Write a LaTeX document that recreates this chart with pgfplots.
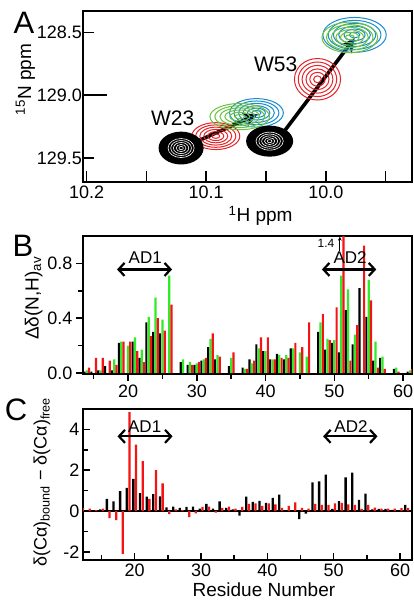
\documentclass[border=0pt]{standalone}
\usepackage{fontspec}
\setmainfont{Liberation Sans}
\usepackage{pgfplots}
\usepackage{pgfplotstable}
\pgfplotsset{compat=1.18}
\usetikzlibrary{arrows.meta}

\definecolor{cred}{RGB}{230,35,40}
\definecolor{cgreen}{RGB}{105,195,60}
\definecolor{cblue}{RGB}{25,140,210}
\definecolor{bred}{RGB}{245,20,20}
\definecolor{bgreen}{RGB}{50,235,40}

% concentric contour rings
\pgfdeclareplotmark{cont}{%
  \pgfpathellipse{\pgfpointorigin}{\pgfpoint{0.16\pgfplotmarksize}{0pt}}{\pgfpoint{0pt}{0.16\pgfplotmarksize}}%
  \pgfpathellipse{\pgfpointorigin}{\pgfpoint{0.32\pgfplotmarksize}{0pt}}{\pgfpoint{0pt}{0.32\pgfplotmarksize}}%
  \pgfpathellipse{\pgfpointorigin}{\pgfpoint{0.48\pgfplotmarksize}{0pt}}{\pgfpoint{0pt}{0.48\pgfplotmarksize}}%
  \pgfpathellipse{\pgfpointorigin}{\pgfpoint{0.64\pgfplotmarksize}{0pt}}{\pgfpoint{0pt}{0.64\pgfplotmarksize}}%
  \pgfpathellipse{\pgfpointorigin}{\pgfpoint{0.80\pgfplotmarksize}{0pt}}{\pgfpoint{0pt}{0.80\pgfplotmarksize}}%
  \pgfpathellipse{\pgfpointorigin}{\pgfpoint{0.96\pgfplotmarksize}{0pt}}{\pgfpoint{0pt}{0.96\pgfplotmarksize}}%
  \pgfusepathqstroke}
% filled black peak with white inner rings
\pgfdeclareplotmark{contk}{%
  \pgfpathellipse{\pgfpointorigin}{\pgfpoint{\pgfplotmarksize}{0pt}}{\pgfpoint{0pt}{\pgfplotmarksize}}%
  \pgfusepathqfill
  \pgfsetstrokecolor{white}\pgfsetlinewidth{0.6pt}%
  \pgfpathellipse{\pgfpointorigin}{\pgfpoint{0.10\pgfplotmarksize}{0pt}}{\pgfpoint{0pt}{0.10\pgfplotmarksize}}%
  \pgfpathellipse{\pgfpointorigin}{\pgfpoint{0.22\pgfplotmarksize}{0pt}}{\pgfpoint{0pt}{0.22\pgfplotmarksize}}%
  \pgfpathellipse{\pgfpointorigin}{\pgfpoint{0.34\pgfplotmarksize}{0pt}}{\pgfpoint{0pt}{0.34\pgfplotmarksize}}%
  \pgfpathellipse{\pgfpointorigin}{\pgfpoint{0.46\pgfplotmarksize}{0pt}}{\pgfpoint{0pt}{0.46\pgfplotmarksize}}%
  \pgfpathellipse{\pgfpointorigin}{\pgfpoint{0.58\pgfplotmarksize}{0pt}}{\pgfpoint{0pt}{0.58\pgfplotmarksize}}%
  \pgfusepathqstroke}

\pgfplotsset{
  panel/.style={scale only axis, width=329pt, anchor=north west,
    axis line style={line width=2pt},
    tick style={line width=1.5pt, black},
    major tick length=7pt, minor tick length=5pt,
    xtick pos=bottom, ytick pos=left,
    tick label style={font=\fontsize{18}{18}\selectfont},
    label style={font=\fontsize{19}{19}\selectfont},
    /pgf/number format/assume math mode=true},
}

% Delta delta(N,H)_av : black, green, red
\pgfplotstableread{
r k g rr
14 0.01 0.02 0.04
15 0.01 nan 0.11
16 0.02 0.02 0.11
17 0.05 nan 0.09
18 0.02 0.10 0.06
19 0.22 0.23 0.23
20 nan 0.20 0.23
21 0.23 0.26 0.16
22 0.11 0.17 0.08
23 0.37 0.41 0.27
24 0.30 0.55 0.40
25 0.29 0.39 0.31
26 nan 0.71 0.50
28 0.08 0.10 nan
29 0.06 0.08 0.06
30 0.06 0.07 0.08
31 0.09 0.10 0.11
32 0.19 0.25 0.29
33 0.10 0.13 0.12
35 0.05 0.11 0.15
37 0.04 0.03 0.03
38 0.10 0.07 0.09
39 0.21 0.18 0.26
40 0.16 0.16 0.26
41 0.10 0.10 0.10
42 0.14 0.13 0.11
43 0.10 0.13 0.11
44 0.18 0.18 0.22
45 nan 0.15 0.19
46 nan 0.12 0.37
48 0.30 0.37 0.43
49 0.17 0.25 0.24
50 0.22 0.24 0.48
51 0.15 0.71 1.40
52 0.46 0.61 0.09
53 0.21 0.28 0.35
54 0.62 nan 0.93
55 0.41 0.68 0.53
56 0.09 0.23 0.04
57 0.11 0.12 0.03
59 0.03 0.04 0.01
61 0.01 0.02 0.03
}\shifts

% delta(Ca)bound - delta(Ca)free : black, red
\pgfplotstableread{
r k rr
12 0.05 0.15
13 0.03 0.12
14 0.02 0.05
15 0.08 0.12
16 0.60 -0.35
17 0.47 -0.45
18 0.97 -2.10
19 1.13 4.85
20 1.57 3.25
21 0.88 2.45
22 0.70 0.60
23 0.83 2.00
24 0.72 1.35
25 0.18 -0.15
26 0.22 0.08
27 0.15 0.05
28 0.20 -0.30
29 0.22 -0.12
30 0.12 0.20
31 0.35 0.22
32 0.12 -0.08
33 0.47 0.15
34 0.15 0.22
35 0.08 0.12
36 -0.22 0.20
37 0.70 0.35
38 0.45 0.38
39 0.50 0.25
40 0.40 0.38
41 0.65 0.32
42 0.80 0.15
43 0.05 0.25
44 0.05 0.42
45 -0.40 0.15
46 -0.13 0.12
47 1.40 0.35
48 1.45 0.30
49 1.78 0.30
50 0.10 0.37
51 0.48 0.40
52 1.65 0.33
53 1.88 0.30
54 0.55 0.10
55 0.85 0.30
56 0.08 0.17
57 0.10 0.12
58 0.10 0.12
59 0.06 0.12
60 0.05 0.14
61 0.30 0.15
}\calpha

\begin{document}
\begin{tikzpicture}
\useasboundingbox (0,0) rectangle (413pt,-601pt);

% panel letters
\node[font=\fontsize{31}{31}\selectfont] at (24pt,-23pt) {A};
\node[font=\fontsize{31}{31}\selectfont] at (23pt,-246pt) {B};
\node[font=\fontsize{31}{31}\selectfont] at (16pt,-410pt) {C};

% ---------- A: HSQC contours ----------
\begin{axis}[panel, at={(83pt,-11pt)}, height=171pt,
  x dir=reverse, y dir=reverse,
  xmin=9.928, xmax=10.203, ymin=128.33, ymax=129.69,
  tick align=inside, major tick length=11pt, minor tick length=11pt,
  xtick={10.2,10.1,10.0}, minor xtick={10.15,10.05,9.95},
  ytick={128.5,129.5}, extra y ticks={129.0},
  extra y tick style={major tick length=24pt},
  xticklabel style={/pgf/number format/.cd, fixed, fixed zerofill, precision=1},
  yticklabel style={inner sep=1pt, /pgf/number format/.cd, fixed, fixed zerofill, precision=1},
  extra y tick labels={129.0},
  xlabel={\textsuperscript{1}H ppm},
  xlabel style={at={(axis description cs:0.54,-0.2)}, anchor=center},
  ylabel={\textsuperscript{15}N ppm},
  ylabel style={at={(axis description cs:-0.175,0.6)}, anchor=center},
]
\addplot[only marks, mark=cont, mark size=28pt, color=cblue, mark options={yscale=0.53, line width=1pt}] coordinates {(10.058,129.14)};
\addplot[only marks, mark=cont, mark size=33pt, color=cblue, mark options={yscale=0.55, line width=1pt}] coordinates {(9.976,128.52)};
\addplot[only marks, mark=cont, mark size=25pt, color=cred, mark options={yscale=0.56, line width=1pt}] coordinates {(10.092,129.325)};
\addplot[only marks, mark=cont, mark size=31pt, color=cgreen, mark options={yscale=0.44, line width=1pt}] coordinates {(10.072,129.17)};
\addplot[only marks, mark=cont, mark size=29pt, color=cgreen, mark options={yscale=0.55, line width=1pt}] coordinates {(9.98,128.54)};
\addplot[only marks, mark=cont, mark size=24pt, color=cred, mark options={yscale=0.9, line width=1pt}] coordinates {(10.007,128.873)};
\addplot[only marks, mark=contk, mark size=22.5pt, color=black, mark options={yscale=0.73, fill=black}] coordinates {(10.121,129.42)};
\addplot[only marks, mark=contk, mark size=23.5pt, color=black, mark options={yscale=0.66, fill=black}] coordinates {(10.047,129.365)};
\addplot[line width=3.6pt, -{Stealth[length=14pt,width=14pt]}] coordinates {(10.12,129.42) (10.057,129.15)};
\addplot[line width=3.6pt, -{Stealth[length=14pt,width=14pt]}] coordinates {(10.041,129.365) (9.976,128.545)};
\node[font=\fontsize{21}{21}\selectfont] at (axis cs:10.128,129.18) {W23};
\node[font=\fontsize{21}{21}\selectfont] at (axis cs:10.042,128.75) {W53};
\end{axis}

% ---------- B: combined chemical shift changes ----------
\begin{axis}[panel, at={(83pt,-236pt)}, height=138pt,
  xmin=13.45, xmax=61.3, ymin=-0.007, ymax=1.0,
  tick align=outside,
  xtick={20,30,...,60}, minor xtick={15,25,...,55},
  ytick={0,0.4,0.8}, minor ytick={0.2,0.6},
  yticklabel style={/pgf/number format/.cd, fixed, fixed zerofill, precision=1},
  ylabel={Δδ(N,H)\textsubscript{av}},
  ylabel style={at={(axis description cs:-0.15,0.55)}, anchor=center},
]
\addplot[ybar, bar width=2.2pt, bar shift=-2.3pt, fill=black, draw=none] table[x=r, y=k] {\shifts};
\addplot[ybar, bar width=2.2pt, bar shift=0pt, fill=bgreen, draw=none] table[x=r, y=g] {\shifts};
\addplot[ybar, bar width=2.2pt, bar shift=2.3pt, fill=bred, draw=none] table[x=r, y=rr] {\shifts};
\draw[line width=2.2pt, {Straight Barb[length=6pt,width=13pt]}-{Straight Barb[length=6pt,width=13pt]}] (axis cs:18.4,0.756) -- (axis cs:26.4,0.756);
\node[font=\fontsize{17}{17}\selectfont] at (axis cs:22.5,0.84) {AD1};
\draw[line width=2.2pt, {Straight Barb[length=6pt,width=13pt]}-{Straight Barb[length=6pt,width=13pt]}] (axis cs:48.2,0.756) -- (axis cs:56.1,0.756);
\node[font=\fontsize{17}{17}\selectfont] at (axis cs:52.3,0.84) {AD2};
\node[font=\fontsize{12}{12}\selectfont] at (axis cs:48.8,0.945) {1.4};
\draw[line width=1pt, -{Stealth[length=4pt,width=4pt]}] (axis cs:50.8,0.89) -- (axis cs:50.8,0.995);
\end{axis}

% ---------- C: C-alpha secondary shifts ----------
\begin{axis}[panel, at={(83pt,-409pt)}, height=151pt,
  xmin=12.2, xmax=61.8, ymin=-2.4, ymax=5,
  tick align=inside,
  xtick={20,30,...,60}, minor xtick={15,25,...,55},
  ytick={-2,0,2,4}, minor ytick={-1,1,3},
  xlabel={Residue Number},
  xlabel style={at={(axis description cs:0.55,-0.2)}, anchor=center},
  ylabel={δ(Cα)\textsubscript{bound} − δ(Cα)\textsubscript{free}},
  ylabel style={at={(axis description cs:-0.125,0.515)}, anchor=center, font=\fontsize{18}{18}\selectfont},
]
\addplot[line width=1.6pt, black] coordinates {(12.2,0) (61.8,0)};
\addplot[ybar, bar width=2.3pt, bar shift=-1.35pt, fill=black, draw=none] table[x=r, y=k] {\calpha};
\addplot[ybar, bar width=2.3pt, bar shift=1.35pt, fill=bred, draw=none] table[x=r, y=rr] {\calpha};
\draw[line width=2.2pt, {Straight Barb[length=6pt,width=13pt]}-{Straight Barb[length=6pt,width=13pt]}] (axis cs:17.4,3.66) -- (axis cs:25.7,3.66);
\node[font=\fontsize{17}{17}\selectfont] at (axis cs:21.5,4.15) {AD1};
\draw[line width=2.2pt, {Straight Barb[length=6pt,width=13pt]}-{Straight Barb[length=6pt,width=13pt]}] (axis cs:48.4,3.66) -- (axis cs:56.6,3.66);
\node[font=\fontsize{17}{17}\selectfont] at (axis cs:52.6,4.15) {AD2};
\end{axis}
\end{tikzpicture}
\end{document}
